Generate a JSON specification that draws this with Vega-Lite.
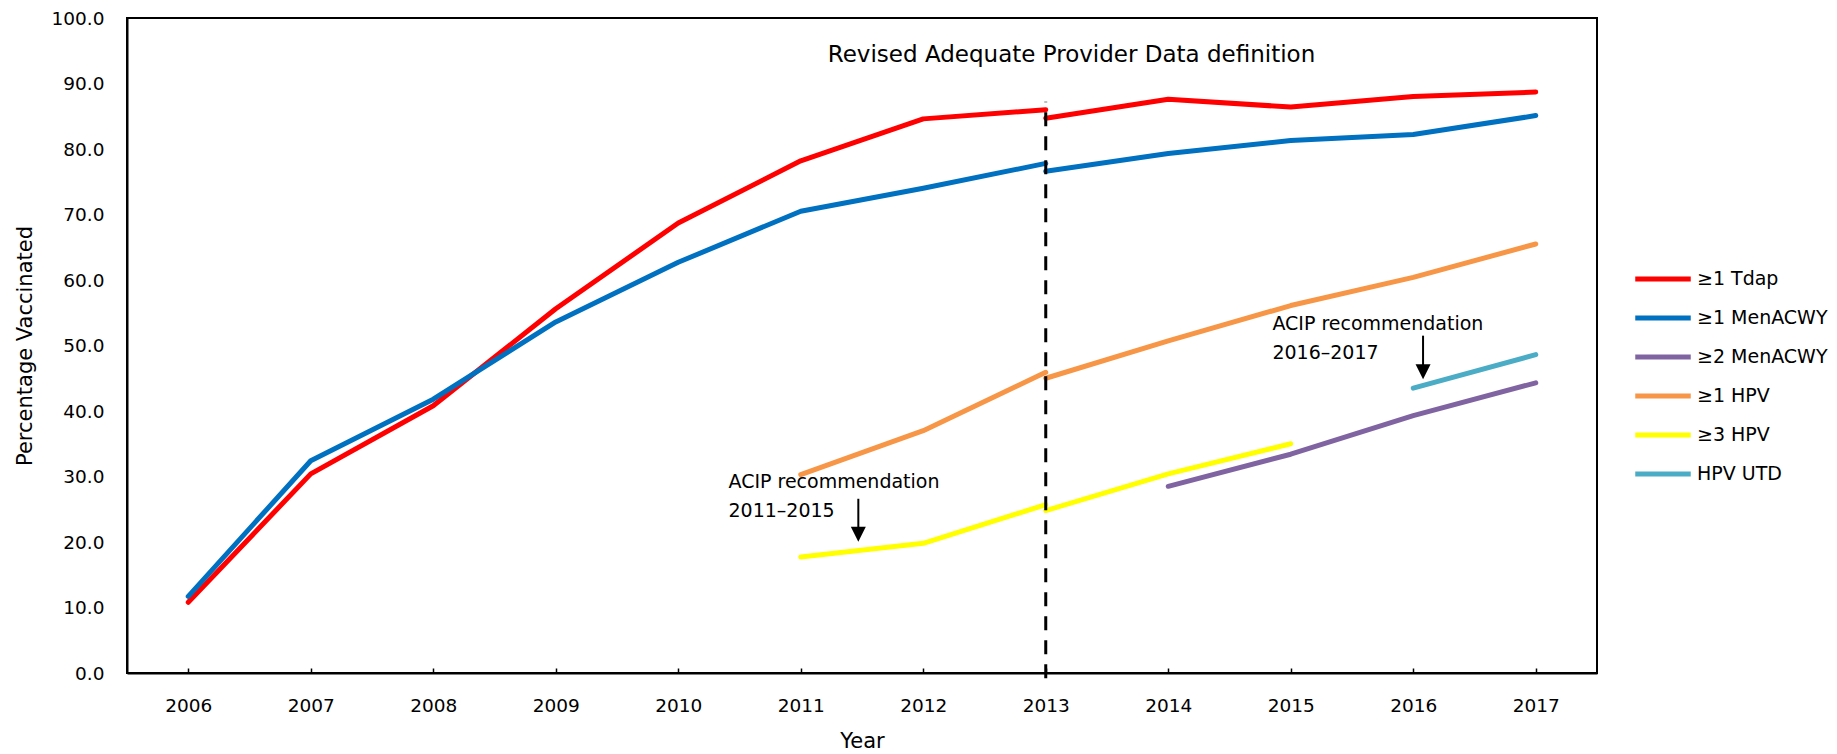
{
  "$schema": "https://vega.github.io/schema/vega-lite/v6.json",
  "width": 1470,
  "height": 655,
  "autosize": {"type": "none"},
  "padding": {"left": 127, "top": 18, "right": 240, "bottom": 81},
  "background": "white",
  "config": {
    "view": {"stroke": "black", "strokeWidth": 2},
    "axis": {
      "grid": false,
      "domainColor": "black",
      "domainWidth": 2,
      "labelFont": "DejaVu Sans",
      "labelFontSize": 18.5,
      "labelColor": "black",
      "titleFont": "DejaVu Sans",
      "titleFontSize": 21,
      "titleFontWeight": "normal",
      "titleColor": "black",
      "tickColor": "black"
    }
  },
  "datasets": {
    "series": [
      {"year": 2006, "value": 10.8, "series": "≥1 Tdap", "period": "a"},
      {"year": 2007, "value": 30.4, "series": "≥1 Tdap", "period": "a"},
      {"year": 2008, "value": 40.8, "series": "≥1 Tdap", "period": "a"},
      {"year": 2009, "value": 55.6, "series": "≥1 Tdap", "period": "a"},
      {"year": 2010, "value": 68.7, "series": "≥1 Tdap", "period": "a"},
      {"year": 2011, "value": 78.2, "series": "≥1 Tdap", "period": "a"},
      {"year": 2012, "value": 84.6, "series": "≥1 Tdap", "period": "a"},
      {"year": 2013, "value": 86.0, "series": "≥1 Tdap", "period": "a"},
      {"year": 2013, "value": 84.7, "series": "≥1 Tdap", "period": "b"},
      {"year": 2014, "value": 87.6, "series": "≥1 Tdap", "period": "b"},
      {"year": 2015, "value": 86.4, "series": "≥1 Tdap", "period": "b"},
      {"year": 2016, "value": 88.0, "series": "≥1 Tdap", "period": "b"},
      {"year": 2017, "value": 88.7, "series": "≥1 Tdap", "period": "b"},
      {"year": 2006, "value": 11.7, "series": "≥1 MenACWY", "period": "a"},
      {"year": 2007, "value": 32.4, "series": "≥1 MenACWY", "period": "a"},
      {"year": 2008, "value": 41.8, "series": "≥1 MenACWY", "period": "a"},
      {"year": 2009, "value": 53.6, "series": "≥1 MenACWY", "period": "a"},
      {"year": 2010, "value": 62.7, "series": "≥1 MenACWY", "period": "a"},
      {"year": 2011, "value": 70.5, "series": "≥1 MenACWY", "period": "a"},
      {"year": 2012, "value": 74.0, "series": "≥1 MenACWY", "period": "a"},
      {"year": 2013, "value": 77.8, "series": "≥1 MenACWY", "period": "a"},
      {"year": 2013, "value": 76.6, "series": "≥1 MenACWY", "period": "b"},
      {"year": 2014, "value": 79.3, "series": "≥1 MenACWY", "period": "b"},
      {"year": 2015, "value": 81.3, "series": "≥1 MenACWY", "period": "b"},
      {"year": 2016, "value": 82.2, "series": "≥1 MenACWY", "period": "b"},
      {"year": 2017, "value": 85.1, "series": "≥1 MenACWY", "period": "b"},
      {"year": 2014, "value": 28.5, "series": "≥2 MenACWY", "period": "b"},
      {"year": 2015, "value": 33.4, "series": "≥2 MenACWY", "period": "b"},
      {"year": 2016, "value": 39.3, "series": "≥2 MenACWY", "period": "b"},
      {"year": 2017, "value": 44.3, "series": "≥2 MenACWY", "period": "b"},
      {"year": 2011, "value": 30.3, "series": "≥1 HPV", "period": "a"},
      {"year": 2012, "value": 37.0, "series": "≥1 HPV", "period": "a"},
      {"year": 2013, "value": 45.9, "series": "≥1 HPV", "period": "a"},
      {"year": 2013, "value": 45.0, "series": "≥1 HPV", "period": "b"},
      {"year": 2014, "value": 50.7, "series": "≥1 HPV", "period": "b"},
      {"year": 2015, "value": 56.1, "series": "≥1 HPV", "period": "b"},
      {"year": 2016, "value": 60.4, "series": "≥1 HPV", "period": "b"},
      {"year": 2017, "value": 65.5, "series": "≥1 HPV", "period": "b"},
      {"year": 2011, "value": 17.7, "series": "≥3 HPV", "period": "a"},
      {"year": 2012, "value": 19.8, "series": "≥3 HPV", "period": "a"},
      {"year": 2013, "value": 25.7, "series": "≥3 HPV", "period": "a"},
      {"year": 2013, "value": 24.8, "series": "≥3 HPV", "period": "b"},
      {"year": 2014, "value": 30.4, "series": "≥3 HPV", "period": "b"},
      {"year": 2015, "value": 35.0, "series": "≥3 HPV", "period": "b"},
      {"year": 2016, "value": 43.5, "series": " HPV UTD", "period": "b"},
      {"year": 2017, "value": 48.6, "series": " HPV UTD", "period": "b"}
    ],
    "arrows": [
      {"x": 2011.47, "y": 26.6, "tip": 21.2},
      {"x": 2016.08, "y": 51.5, "tip": 46.0}
    ],
    "notes": [
      {"x": 2010.41, "y": 28.2, "text": "ACIP recommendation\n2011–2015"},
      {"x": 2014.85, "y": 52.3, "text": "ACIP recommendation\n2016–2017"}
    ],
    "heading": [
      {"x": 2013.21, "y": 93.3, "text": "Revised Adequate Provider Data definition"}
    ],
    "divider": [
      {"x": 2013, "bottom": -0.8, "top": 87.2}
    ]
  },
  "layer": [
    {
      "data": {"name": "series"},
      "mark": {"type": "line", "strokeWidth": 5, "strokeCap": "round", "strokeJoin": "round"},
      "encoding": {
        "x": {
          "field": "year",
          "type": "quantitative",
          "scale": {"domain": [2005.5, 2017.5], "nice": false, "zero": false},
          "axis": {
            "values": [2006, 2007, 2008, 2009, 2010, 2011, 2012, 2013, 2014, 2015, 2016, 2017],
            "format": "d",
            "title": "Year",
            "tickSize": -5,
            "tickWidth": 1.5,
            "labelPadding": 28,
            "titlePadding": 16
          }
        },
        "y": {
          "field": "value",
          "type": "quantitative",
          "scale": {"domain": [0, 100], "nice": false},
          "axis": {
            "values": [0, 10, 20, 30, 40, 50, 60, 70, 80, 90, 100],
            "format": ".1f",
            "title": "Percentage Vaccinated",
            "ticks": false,
            "labelPadding": 23,
            "titlePadding": 16
          }
        },
        "color": {
          "field": "series",
          "type": "nominal",
          "scale": {
            "domain": ["≥1 Tdap", "≥1 MenACWY", "≥2 MenACWY", "≥1 HPV", "≥3 HPV", " HPV UTD"],
            "range": ["#FF0000", "#0070C0", "#8064A2", "#F79646", "#FFFF00", "#4BACC6"]
          },
          "legend": {
            "title": null,
            "orient": "none",
            "legendX": 1515,
            "legendY": 240,
            "padding": 0,
            "symbolType": "M-1.5,0H1.5",
            "symbolSize": 1369,
            "symbolStrokeWidth": 5,
            "labelFont": "DejaVu Sans",
            "labelFontSize": 19,
            "labelColor": "black",
            "labelOffset": 13,
            "rowPadding": 8
          }
        },
        "detail": {"field": "period"}
      }
    },
    {
      "data": {"name": "divider"},
      "mark": {"type": "rule", "strokeDash": [14, 10], "strokeWidth": 3, "color": "black"},
      "encoding": {
        "x": {"field": "x", "type": "quantitative"},
        "y": {"field": "bottom", "type": "quantitative"},
        "y2": {"field": "top"}
      }
    },
    {
      "data": {"name": "arrows"},
      "mark": {"type": "rule", "strokeWidth": 2, "color": "black"},
      "encoding": {
        "x": {"field": "x", "type": "quantitative"},
        "y": {"field": "y", "type": "quantitative"},
        "y2": {"field": "tip"}
      }
    },
    {
      "data": {"name": "arrows"},
      "mark": {"type": "point", "shape": "M-1,-1L1,-1L0,1Z", "filled": true, "color": "black", "opacity": 1, "size": 225},
      "encoding": {
        "x": {"field": "x", "type": "quantitative"},
        "y": {"field": "tip", "type": "quantitative"}
      }
    },
    {
      "data": {"name": "notes"},
      "mark": {"type": "text", "align": "left", "baseline": "alphabetic", "font": "DejaVu Sans", "fontSize": 19, "lineHeight": 29, "lineBreak": "\n", "color": "black"},
      "encoding": {
        "x": {"field": "x", "type": "quantitative"},
        "y": {"field": "y", "type": "quantitative"},
        "text": {"field": "text"}
      }
    },
    {
      "data": {"name": "heading"},
      "mark": {"type": "text", "align": "center", "baseline": "alphabetic", "font": "DejaVu Sans", "fontSize": 23, "color": "black"},
      "encoding": {
        "x": {"field": "x", "type": "quantitative"},
        "y": {"field": "y", "type": "quantitative"},
        "text": {"field": "text"}
      }
    }
  ]
}
